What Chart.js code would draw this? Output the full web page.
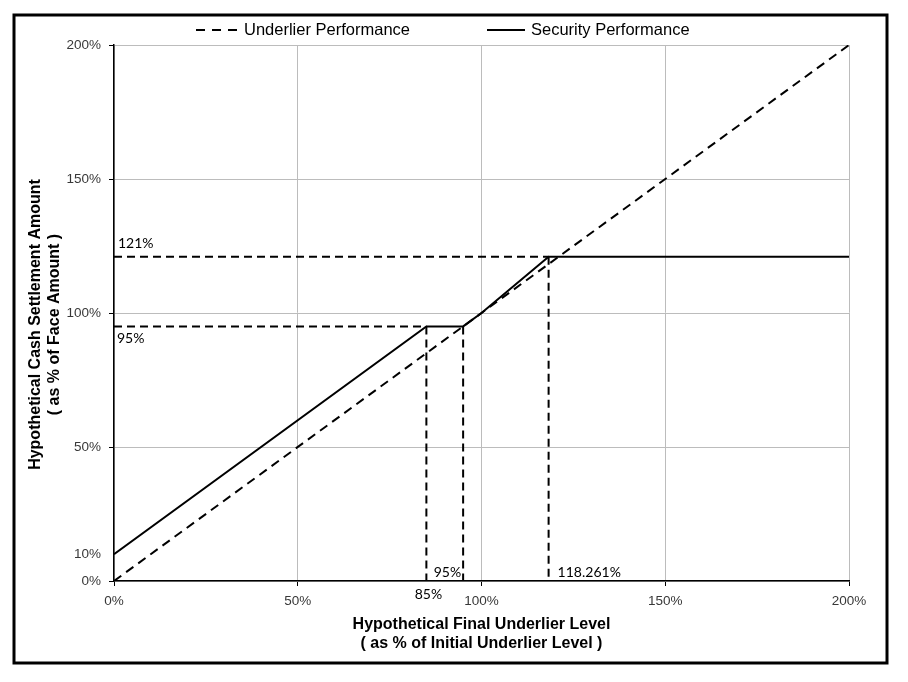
<!DOCTYPE html>
<html>
<head>
<meta charset="utf-8">
<script src="https://cdn.jsdelivr.net/npm/chart.js@4.4.0/dist/chart.umd.min.js"></script>
<style>
  html, body { margin: 0; padding: 0; background: #fff; }
</style>
</head>
<body>
<canvas id="myChart" width="908" height="682"></canvas>
<script>
// payoff data, all in % of initial level / face amount
const underlierX = [0, 200];
const underlierY = [0, 200];
const securityX = [0, 85, 95, 100, 118.261, 200];
const securityY = [10, 95, 95, 100, 121, 121];

const floorStart = 85;
const floorEnd = 95;
const floorLevel = 95;
const capStrike = 118.261;
const capLevel = 121;

const xTicks = [0, 50, 100, 150, 200];
const yTicks = [0, 10, 50, 100, 150, 200];
const hiddenGridTicks = [10];

const seriesNames = ['Underlier Performance', 'Security Performance'];
const xTitle = ['Hypothetical Final Underlier Level', '( as % of Initial Underlier Level )'];
const yTitle = ['Hypothetical Cash Settlement Amount', '( as % of Face Amount )'];

const toPoints = (xs, ys) => xs.map((x, i) => ({ x: x, y: ys[i] }));

// dashed guide lines for the floor and cap
const guides = [
    [[0, capLevel], [capStrike, capLevel]],
    [[capStrike, capLevel], [capStrike, 0]],
    [[0, floorLevel], [floorStart, floorLevel]],
    [[floorStart, floorLevel], [floorStart, 0]],
    [[floorEnd, floorLevel], [floorEnd, 0]]
];

const SANS = '"Liberation Sans", Arial, sans-serif';

const guideSets = guides.map(g => ({
    label: 'guide',
    data: g.map(p => ({ x: p[0], y: p[1] })),
    borderColor: '#000',
    borderWidth: 2,
    borderDash: [8, 5],
    pointRadius: 0,
    fill: false
}));

const extras = {
    id: 'extras',
    beforeDraw(chart) {
        const ctx = chart.ctx;
        ctx.save();
        ctx.fillStyle = '#fff';
        ctx.fillRect(0, 0, chart.width, chart.height);
        ctx.restore();
    },
    afterDraw(chart) {
        const { ctx, scales: { x, y } } = chart;
        ctx.save();

        // value notes
        ctx.font = '14px Lato, "Open Sans", sans-serif';
        ctx.fillStyle = '#000';
        ctx.textBaseline = 'middle';
        ctx.textAlign = 'left';
        ctx.fillText(capLevel + '%', x.getPixelForValue(0) + 4, y.getPixelForValue(capLevel) - 13);
        ctx.fillText(floorLevel + '%', x.getPixelForValue(0) + 3, y.getPixelForValue(floorLevel) + 12);
        ctx.fillText(capStrike + '%', x.getPixelForValue(capStrike) + 9, y.getPixelForValue(0) - 9);
        ctx.textAlign = 'right';
        ctx.fillText(floorEnd + '%', x.getPixelForValue(floorEnd) - 2, y.getPixelForValue(0) - 9);
        ctx.textAlign = 'center';
        ctx.fillText(floorStart + '%', x.getPixelForValue(floorStart) + 2, y.getPixelForValue(0) + 13);

        // legend
        const ly = 30;
        ctx.strokeStyle = '#000';
        ctx.lineWidth = 2;
        ctx.setLineDash([9, 7]);
        ctx.beginPath();
        ctx.moveTo(196, ly);
        ctx.lineTo(238, ly);
        ctx.stroke();
        ctx.setLineDash([]);
        ctx.beginPath();
        ctx.moveTo(487, ly);
        ctx.lineTo(525, ly);
        ctx.stroke();
        ctx.font = '16.5px ' + SANS;
        ctx.textAlign = 'left';
        ctx.fillText(seriesNames[0], 244, ly);
        ctx.fillText(seriesNames[1], 531, ly);

        // y axis title
        ctx.save();
        ctx.translate(36, 324.5);
        ctx.rotate(-Math.PI / 2);
        ctx.font = 'bold 16px ' + SANS;
        ctx.textAlign = 'center';
        ctx.fillText(yTitle[0], 0, 0);
        ctx.fillText(yTitle[1], 0, 19);
        ctx.restore();

        // outer frame
        ctx.lineWidth = 3;
        ctx.strokeRect(14, 15, 873, 648);
        ctx.restore();
    }
};

const gridColor = c => hiddenGridTicks.includes(c.tick.value) ? 'rgba(0,0,0,0)' : '#bcbcbc';
const tickColor = c => hiddenGridTicks.includes(c.tick.value) ? 'rgba(0,0,0,0)' : '#000';

new Chart(document.getElementById('myChart').getContext('2d'), {
    type: 'line',
    data: {
        datasets: [
            {
                label: seriesNames[0],
                data: toPoints(underlierX, underlierY),
                borderColor: '#000',
                borderWidth: 2,
                borderDash: [9, 6],
                pointRadius: 0,
                fill: false
            },
            {
                label: seriesNames[1],
                data: toPoints(securityX, securityY),
                borderColor: '#000',
                borderWidth: 2,
                pointRadius: 0,
                fill: false
            }
        ].concat(guideSets)
    },
    options: {
        responsive: false,
        animation: false,
        layout: {
            padding: { top: 45, right: 59, bottom: 0, left: 0 }
        },
        plugins: {
            legend: { display: false },
            tooltip: { enabled: false }
        },
        scales: {
            x: {
                type: 'linear',
                min: 0,
                max: 200,
                afterBuildTicks: s => { s.ticks = xTicks.map(v => ({ value: v })); },
                afterFit: s => { s.height = 101; },
                grid: { color: '#bcbcbc', tickColor: '#000', tickLength: 5, lineWidth: 1 },
                border: { color: '#000', width: 1.5 },
                ticks: {
                    padding: 7,
                    color: '#383838',
                    font: { family: SANS, size: 13.5 },
                    maxRotation: 0,
                    callback: v => v + '%'
                },
                title: {
                    display: true,
                    text: xTitle,
                    color: '#000',
                    font: { family: SANS, size: 16, weight: 'bold', lineHeight: '19px' },
                    padding: { top: 0, bottom: 28.5 }
                }
            },
            y: {
                type: 'linear',
                min: 0,
                max: 200,
                afterBuildTicks: s => { s.ticks = yTicks.map(v => ({ value: v })); },
                afterFit: s => { s.width = 114; },
                grid: { color: gridColor, tickColor: tickColor, tickLength: 5, lineWidth: 1 },
                border: { color: '#000', width: 1.5 },
                ticks: {
                    padding: 8,
                    color: '#383838',
                    font: { family: SANS, size: 13.5 },
                    autoSkip: false,
                    callback: v => v + '%'
                }
            }
        }
    },
    plugins: [extras]
});
</script>
</body>
</html>
